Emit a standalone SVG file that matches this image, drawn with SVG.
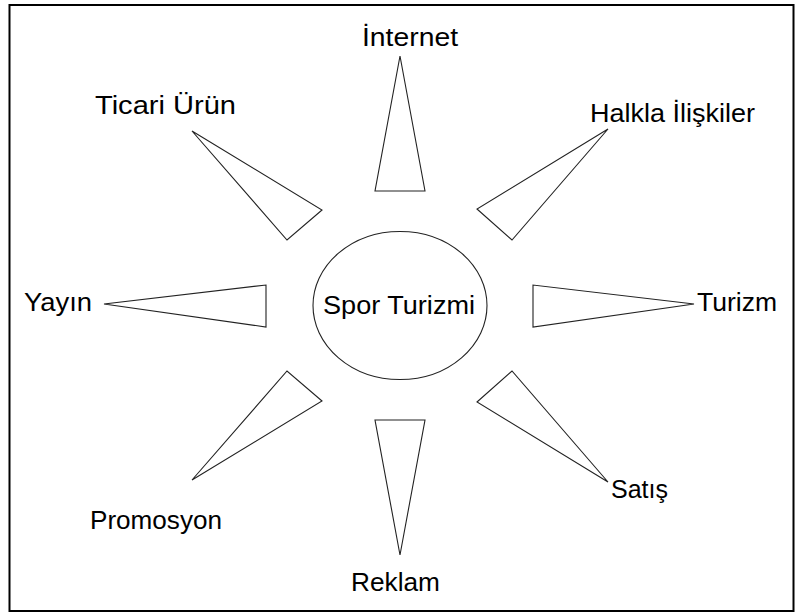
<svg xmlns="http://www.w3.org/2000/svg" width="798" height="616" viewBox="0 0 798 616">
<style>
.ray{fill:#fff;stroke:#222;stroke-width:1.1}
.lbl{font-family:"Liberation Sans",Arial,sans-serif;font-size:25px;fill:#000}
</style>
<rect x="0" y="0" width="798" height="616" fill="#fff"/>
<rect x="9.5" y="5" width="784" height="606" fill="none" stroke="#000" stroke-width="2"/>
<g id="connectors">
<polygon class="ray" points="400,56 375,191 425,191"/>
<polygon class="ray" points="608,129 477,209 512,240"/>
<polygon class="ray" points="694,304 533,285 533,327"/>
<polygon class="ray" points="608,482 477,402 512,371"/>
<polygon class="ray" points="400,555 375,420 425,420"/>
<polygon class="ray" points="192,480 322,401 287,371"/>
<polygon class="ray" points="104,304 266,285 266,327"/>
<polygon class="ray" points="192,131 322,210 287,240"/>
</g>
<g id="center">
<ellipse cx="400" cy="305.5" rx="87" ry="74" fill="#fff" stroke="#222" stroke-width="1.1"/>
<text class="lbl" x="323" y="314" textLength="152" lengthAdjust="spacingAndGlyphs">Spor Turizmi</text>
</g>
<g id="internet"><text class="lbl" x="362" y="46" textLength="96" lengthAdjust="spacingAndGlyphs">İnternet</text></g>
<g id="halkla"><text class="lbl" x="590" y="122" textLength="165" lengthAdjust="spacingAndGlyphs">Halkla İlişkiler</text></g>
<g id="turizm"><text class="lbl" x="697" y="311" textLength="80" lengthAdjust="spacingAndGlyphs">Turizm</text></g>
<g id="satis"><text class="lbl" x="611" y="498" textLength="57" lengthAdjust="spacingAndGlyphs">Satış</text></g>
<g id="reklam"><text class="lbl" x="351" y="591" textLength="89" lengthAdjust="spacingAndGlyphs">Reklam</text></g>
<g id="promosyon"><text class="lbl" x="90" y="529" textLength="132" lengthAdjust="spacingAndGlyphs">Promosyon</text></g>
<g id="yayin"><text class="lbl" x="24" y="311" textLength="68" lengthAdjust="spacingAndGlyphs">Yayın</text></g>
<g id="ticari"><text class="lbl" x="95" y="114" textLength="141" lengthAdjust="spacingAndGlyphs">Ticari Ürün</text></g>
</svg>
